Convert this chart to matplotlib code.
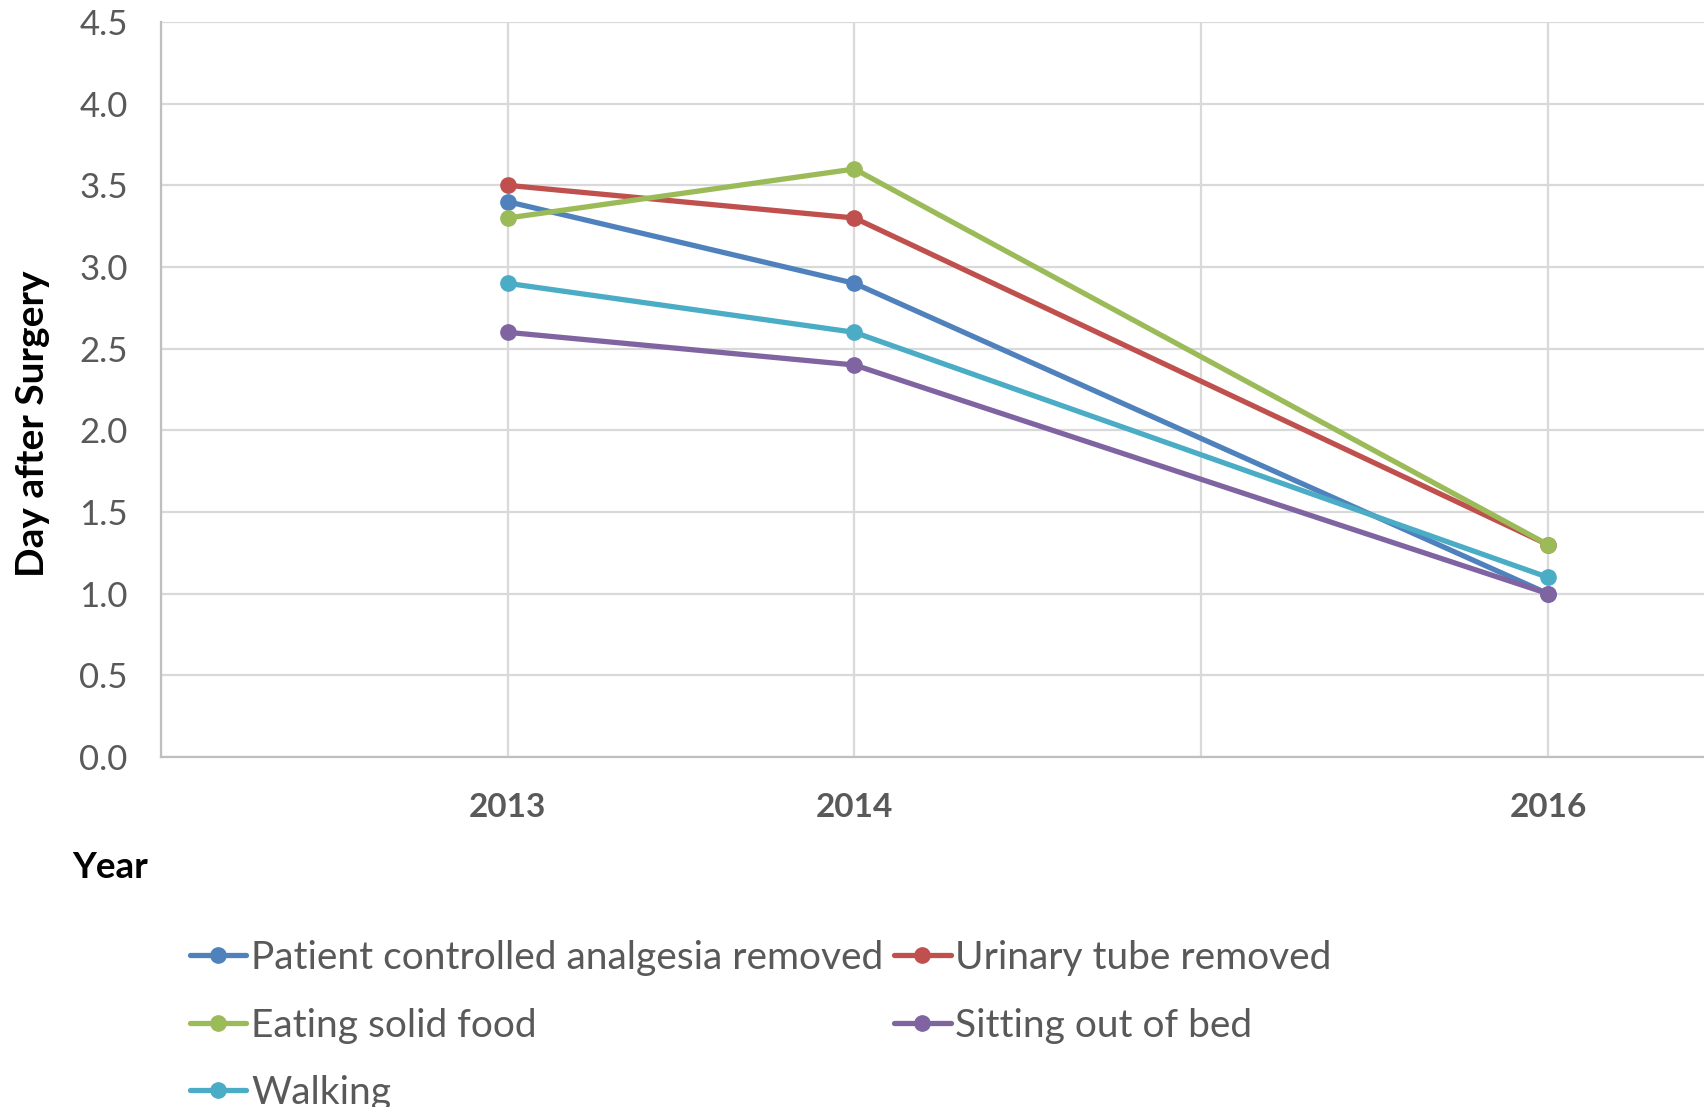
import matplotlib
matplotlib.use("Agg")
import matplotlib.pyplot as plt

plt.rcParams['font.family'] = ['Lato', 'DejaVu Sans']

years = [2013, 2014, 2016]
series_names = ["Patient controlled analgesia removed", "Urinary tube removed",
                "Eating solid food", "Sitting out of bed", "Walking"]
patient_controlled = [3.4, 2.9, 1.0]
urinary_tube = [3.5, 3.3, 1.3]
eating_solid = [3.3, 3.6, 1.3]
sitting_out = [2.6, 2.4, 1.0]
walking = [2.9, 2.6, 1.1]
colors = ["#4F81BD", "#C0504D", "#9BBB59", "#8064A2", "#4BACC6"]

grid_years = [2012, 2013, 2014, 2015, 2016, 2017]
year_labels = ["", "2013", "2014", "", "2016", ""]
y_ticks = [0.0, 0.5, 1.0, 1.5, 2.0, 2.5, 3.0, 3.5, 4.0, 4.5]

fig = plt.figure(figsize=(17.04, 11.07), dpi=100)
ax = fig.add_axes([161/1704, 1 - 757/1107, 1 - 161/1704, (757 - 22)/1107])

data = [patient_controlled, urinary_tube, eating_solid, sitting_out, walking]
handles = []
for name, vals, c in zip(series_names, data, colors):
    h, = ax.plot(years, vals, color=c, lw=3.8, marker='o', markersize=11,
                 label=name, solid_capstyle='round', zorder=3)
    handles.append(h)

ax.set_xticks(grid_years)
ax.set_xticklabels(year_labels, fontsize=24, fontweight='bold', color='#595959')
ax.set_yticks(y_ticks)
ax.set_yticklabels([f"{v:.1f}" for v in y_ticks], fontsize=25, color='#595959')
ax.set_xlim(2012, 2016.45)
ax.set_ylim(0, 4.5)
ax.tick_params(axis='both', length=0)
ax.tick_params(axis='x', pad=26)
ax.tick_params(axis='y', pad=24)
ax.grid(True, color='#D9D9D9', lw=1.6, zorder=0)
for s in ['top', 'right']:
    ax.spines[s].set_visible(False)
for s in ['left', 'bottom']:
    ax.spines[s].set_color('#BFBFBF')
    ax.spines[s].set_linewidth(1.6)

fig.text(110/1704, 1 - 867/1107, "Year", fontsize=26.5, fontweight='bold',
         color='black', ha='center', va='center')
fig.text(33/1704, 1 - 424/1107, "Day after Surgery", fontsize=28, fontweight='bold',
         color='black', ha='center', va='center', rotation=90)

order = [0, 2, 4, 1, 3]
leg = fig.legend([handles[i] for i in order], [series_names[i] for i in order],
                 ncol=2, loc='upper left', bbox_to_anchor=(190/1704, 1 - 940/1107),
                 frameon=False, fontsize=28, handlelength=1.45, handletextpad=0.12,
                 columnspacing=0.28, labelspacing=0.81, borderaxespad=0, borderpad=0)
for t in leg.get_texts():
    t.set_color('#595959')

fig.savefig("out.png", dpi=100)
